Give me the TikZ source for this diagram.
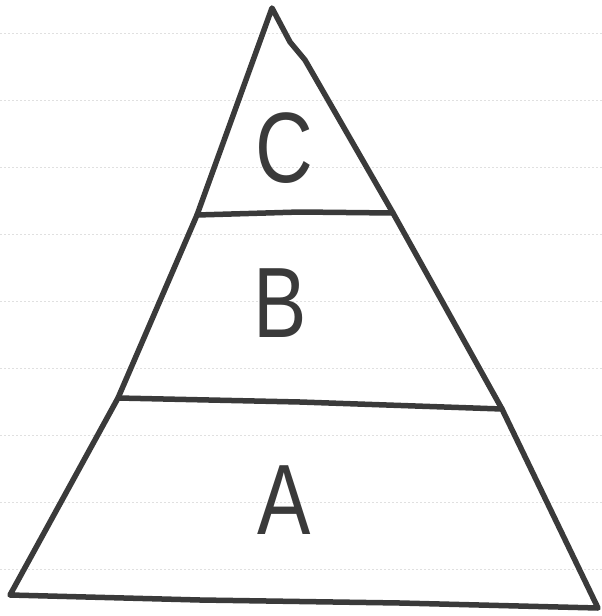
\documentclass[tikz,border=0pt]{standalone}
\usepackage{fontspec}
\setmainfont{Liberation Sans}
\definecolor{ink}{HTML}{3A3A3A}
\definecolor{rule}{HTML}{E0E0E0}
\begin{document}
\begin{tikzpicture}[x=1pt,y=-1pt,
  pen/.style={draw=ink,line width=5.5pt,line join=round,line cap=round},
  ruled/.style={draw=rule,line width=1pt,dash pattern=on 2pt off 2pt},
  letter/.style={text=ink,font=\fontsize{100}{100}\selectfont,inner sep=0pt,xscale=0.8}]
\useasboundingbox (0,0) rectangle (602,616);
\fill[white] (0,0) rectangle (602,616);
\foreach \yy in {33,100,167,234,301,368,435,502,569}
  \draw[ruled] (0,\yy) -- (602,\yy);
% outline
\draw[pen] (272,8) -- (197,215) -- (118,398) -- (10,595)
  -- (200,600) -- (400,603) -- (598,608)
  -- (502,409) -- (393,213) -- (305,60) -- (290,42) -- cycle;
% dividers
\draw[pen] (197,215) -- (300,212) -- (393,213);
\draw[pen] (118,398) -- (300,402) -- (502,409);
% labels
\node[letter] (c) at (284,148) {C};
\node[letter] (b) at (280,303) {B};
\node[letter] (a) at (284,500) {A};
\end{tikzpicture}
\end{document}
